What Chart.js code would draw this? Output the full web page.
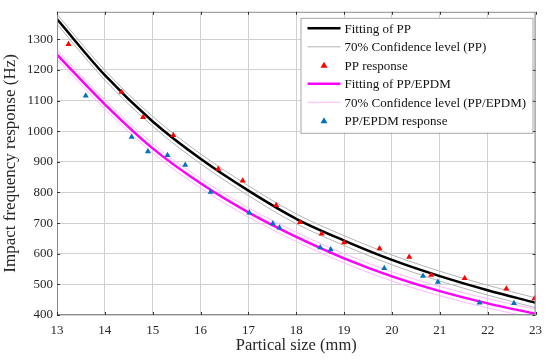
<!DOCTYPE html>
<html>
<head>
<meta charset="utf-8">
<script src="https://cdn.jsdelivr.net/npm/chart.js@4.4.1/dist/chart.umd.min.js"></script>
<style>
  html, body { margin: 0; padding: 0; background: #fff; }
  #wrap { width: 550px; height: 360px; }
</style>
</head>
<body>
<div id="wrap"><canvas id="sizeChart" width="550" height="360"></canvas></div>
<script>
// fitted curves at each whole mm
var fitSize = [13, 14, 15, 16, 17, 18, 19, 20, 21, 22, 23];
var ppFit    = [1366, 1183, 1032, 910, 806, 714, 643, 580, 527, 481, 440];
var ppUpper  = [1382, 1199, 1048, 926, 822, 730, 659, 596, 543, 497, 456];
var ppLower  = [1350, 1167, 1016, 894, 790, 698, 627, 564, 511, 465, 424];
var epdmFit   = [1250, 1088, 944, 830, 735, 655, 585, 526, 478, 438, 404];
var epdmUpper = [1265, 1103, 959, 845, 750, 670, 600, 541, 493, 453, 419];
var epdmLower = [1235, 1073, 929, 815, 720, 640, 570, 511, 463, 423, 389];

// measured responses
var ppSize = [13.24, 14.35, 14.80, 15.43, 16.37, 16.88, 17.58, 18.08, 18.53, 19.00, 19.74, 20.36, 20.82, 21.52, 22.39, 22.98];
var ppResp = [1284, 1128, 1046, 987, 877, 838, 758, 703, 665, 637, 617, 589, 531, 520, 486, 454];
var epdmSize = [13.60, 14.56, 14.90, 15.31, 15.68, 16.21, 17.02, 17.51, 17.65, 18.50, 18.72, 19.84, 20.65, 20.96, 21.83, 22.55];
var epdmResp = [1116, 981, 934, 922, 890, 802, 734, 699, 685, 620, 614, 553, 527, 508, 440, 438];

var xTicks = [13, 14, 15, 16, 17, 18, 19, 20, 21, 22, 23];
var yTicks = [400, 500, 600, 700, 800, 900, 1000, 1100, 1200, 1300];

var FONT = '"Liberation Serif", "Times New Roman", serif';

function pairs(xs, ys) {
    return xs.map(function(x, i) { return { x: x, y: ys[i] }; });
}

function curve(label, ys, color, width, order) {
    return {
        label: label,
        data: pairs(fitSize, ys),
        showLine: true,
        borderColor: color,
        backgroundColor: color,
        borderWidth: width,
        pointRadius: 0,
        cubicInterpolationMode: 'monotone',
        order: order
    };
}

function marks(label, xs, ys, color) {
    return {
        label: label,
        data: pairs(xs, ys),
        showLine: false,
        pointStyle: 'triangle',
        pointRadius: 3.5,
        borderWidth: 0,
        backgroundColor: color,
        borderColor: color,
        order: 0
    };
}

// box, inward ticks, and the legend drawn inside the plot
var framePlugin = {
    id: 'frame',
    afterDraw: function(chart) {
        var ctx = chart.ctx, a = chart.chartArea;
        var xs = chart.scales.x, ys = chart.scales.y;
        ctx.save();
        ctx.strokeStyle = '#8c8c8c';
        ctx.lineWidth = 1;
        ctx.strokeRect(a.left + 0.5, a.top + 0.5, a.right - a.left - 1, a.bottom - a.top - 1);
        ctx.strokeStyle = '#333';
        ctx.beginPath();
        xTicks.forEach(function(v) {
            var px = Math.round(xs.getPixelForValue(v)) + 0.5;
            ctx.moveTo(px, a.bottom); ctx.lineTo(px, a.bottom - 3);
            ctx.moveTo(px, a.top); ctx.lineTo(px, a.top + 3);
        });
        yTicks.forEach(function(v) {
            var py = Math.round(ys.getPixelForValue(v)) + 0.5;
            ctx.moveTo(a.left, py); ctx.lineTo(a.left + 3, py);
            ctx.moveTo(a.right, py); ctx.lineTo(a.right - 3, py);
        });
        ctx.stroke();

        // legend
        var lx = a.right - 235, ly = a.top + 6, lw = 232, lh = 115;
        ctx.fillStyle = '#fff';
        ctx.fillRect(lx, ly, lw, lh);
        ctx.strokeStyle = '#a6a6a6';
        ctx.strokeRect(lx + 0.5, ly + 0.5, lw, lh);
        ctx.font = '13px ' + FONT;
        ctx.textBaseline = 'middle';
        var row = 0;
        chart.data.datasets.forEach(function(ds) {
            if (!ds.label) return;
            var cy = ly + 10.5 + row * 18.5;
            if (ds.showLine) {
                ctx.strokeStyle = ds.borderColor;
                ctx.lineWidth = ds.borderWidth;
                ctx.beginPath();
                ctx.moveTo(lx + 7, cy); ctx.lineTo(lx + 40, cy);
                ctx.stroke();
            } else {
                ctx.fillStyle = ds.backgroundColor;
                ctx.beginPath();
                ctx.moveTo(lx + 23.5, cy - 3.5);
                ctx.lineTo(lx + 27, cy + 2.5);
                ctx.lineTo(lx + 20, cy + 2.5);
                ctx.closePath();
                ctx.fill();
            }
            ctx.fillStyle = '#111';
            ctx.fillText(ds.label, lx + 44, cy + 1);
            row++;
        });
        ctx.restore();
    }
};

new Chart(document.getElementById('sizeChart'), {
    type: 'scatter',
    data: {
        datasets: [
            curve('Fitting of PP', ppFit, '#000000', 2.5, 1),
            curve('70% Confidence level (PP)', ppUpper, '#b4b4b4', 1, 2),
            curve('', ppLower, '#b4b4b4', 1, 2),
            marks('PP response', ppSize, ppResp, '#ff0000'),
            curve('Fitting of PP/EPDM', epdmFit, '#ff00ff', 2.5, 1),
            curve('70% Confidence level (PP/EPDM)', epdmUpper, '#ffb8ff', 1, 2),
            curve('', epdmLower, '#ffb8ff', 1, 2),
            marks('PP/EPDM response', epdmSize, epdmResp, '#0072bd')
        ]
    },
    options: {
        responsive: false,
        animation: false,
        layout: { padding: { top: 9, right: 14, left: 0, bottom: 0 } },
        plugins: {
            legend: { display: false },
            tooltip: { enabled: false }
        },
        scales: {
            x: {
                type: 'linear',
                min: 13,
                max: 23,
                afterBuildTicks: function(s) { s.ticks = xTicks.map(function(v) { return { value: v }; }); },
                afterFit: function(s) { s.height = 45; },
                grid: { color: '#d0d0d0', drawTicks: false },
                border: { display: false },
                ticks: {
                    color: '#262626', padding: 8, font: { family: FONT, size: 13 },
                    callback: function(v) { return String(v); }
                },
                title: {
                    display: true,
                    text: 'Partical size (mm)',
                    color: '#262626',
                    font: { family: FONT, size: 16.5 },
                    padding: { top: 0, bottom: 4 }
                }
            },
            y: {
                type: 'linear',
                min: 400,
                max: 1390,
                afterBuildTicks: function(s) { s.ticks = yTicks.map(function(v) { return { value: v }; }); },
                afterFit: function(s) { s.width = 57; },
                grid: { color: '#d0d0d0', drawTicks: false },
                border: { display: false },
                ticks: {
                    color: '#262626', padding: 4, font: { family: FONT, size: 13 },
                    callback: function(v) { return String(v); }
                },
                title: {
                    display: true,
                    text: 'Impact frequency response (Hz)',
                    color: '#262626',
                    font: { family: FONT, size: 17 },
                    padding: { top: 0, bottom: 2 }
                }
            }
        }
    },
    plugins: [framePlugin]
});
</script>
</body>
</html>
